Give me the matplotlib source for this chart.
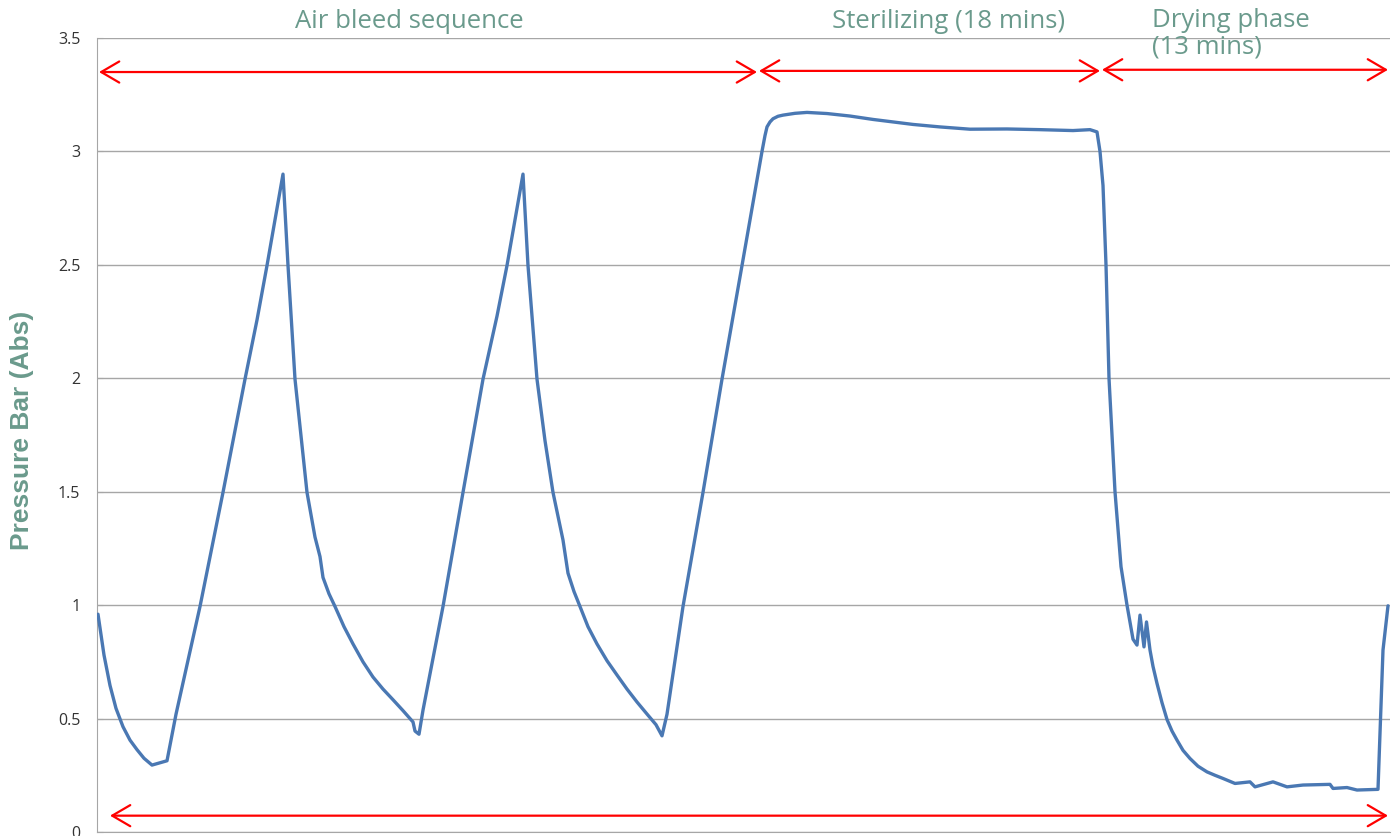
import matplotlib
matplotlib.use("Agg")
import matplotlib.pyplot as plt

# ---- data (time in arbitrary sample units) ----
time_units = [1, 7, 13, 19, 26, 33, 40, 47, 55, 70, 79, 103, 126, 148, 160, 170, 186,
              191, 198, 210, 218, 223, 226, 232, 238, 247, 256, 266, 276, 286, 296, 306,
              316, 318, 322, 326, 346, 366, 386, 400, 410, 426, 431, 440, 448, 456, 466,
              471, 477, 483, 491, 500, 510, 520, 530, 540, 550, 559, 565, 570, 586, 606,
              625, 645, 665, 668, 670, 673, 676, 681, 686, 698, 710, 730, 753, 776, 796,
              816, 843, 873, 910, 943, 976, 993, 1000, 1003, 1006, 1009, 1012, 1018, 1024,
              1030, 1036, 1040, 1043, 1047, 1049.5, 1053, 1056, 1060, 1065, 1070, 1075,
              1080, 1086, 1093, 1101, 1110, 1118, 1126, 1138, 1153, 1158, 1176, 1190,
              1206, 1233, 1236, 1250, 1260, 1281, 1283, 1286, 1291]
pressure_bar = [0.96, 0.78, 0.646, 0.545, 0.464, 0.405, 0.363, 0.325, 0.295, 0.314, 0.519,
                0.994, 1.497, 1.996, 2.257, 2.497, 2.90, 2.497, 1.996, 1.497, 1.30, 1.214,
                1.122, 1.05, 0.994, 0.905, 0.829, 0.75, 0.683, 0.63, 0.583, 0.535, 0.485,
                0.445, 0.431, 0.537, 0.994, 1.497, 1.996, 2.274, 2.497, 2.90, 2.497, 1.996,
                1.725, 1.497, 1.287, 1.141, 1.06, 0.994, 0.905, 0.829, 0.755, 0.692, 0.63,
                0.573, 0.52, 0.473, 0.424, 0.519, 0.994, 1.497, 1.996, 2.497, 3.0, 3.07,
                3.108, 3.13, 3.144, 3.155, 3.160, 3.168, 3.172, 3.167, 3.156, 3.141, 3.130,
                3.119, 3.108, 3.098, 3.099, 3.096, 3.092, 3.096, 3.086, 3.0, 2.85, 2.5, 2.0,
                1.5, 1.17, 1.0, 0.85, 0.824, 0.956, 0.816, 0.926, 0.802, 0.73, 0.655, 0.57,
                0.496, 0.445, 0.405, 0.36, 0.324, 0.29, 0.265, 0.25, 0.236, 0.214, 0.221,
                0.199, 0.221, 0.199, 0.207, 0.210, 0.192, 0.196, 0.185, 0.188, 0.435,
                0.802, 0.997]

y_ticks = [0, 0.5, 1, 1.5, 2, 2.5, 3, 3.5]
y_tick_labels = ["0", "0.5", "1", "1.5", "2", "2.5", "3", "3.5"]

phase_names = ["Air bleed sequence", "Sterilizing (18 mins)", "Drying phase\n(13 mins)"]
phase_starts = [2, 662, 1005]
phase_ends = [660, 1003, 1291]
phase_arrow_level = [3.35, 3.355, 3.36]
overall_span = (13, 1291)
overall_level = 0.072

label_color = "#6a9a8c"
line_color = "#4a78b3"

fig = plt.figure(figsize=(13.95, 8.36), dpi=100)
W, H = 1395, 836
ax = fig.add_axes([97 / W, 4 / H, (1390 - 97) / W, (832 - 38) / H])

ax.plot(time_units, pressure_bar, color=line_color, lw=2.4,
        solid_joinstyle="round", solid_capstyle="round", zorder=3)

ax.set_xlim(0, 1293)
ax.set_ylim(0, 3.5)
ax.set_yticks(y_ticks)
ax.set_yticklabels(y_tick_labels, fontfamily="Open Sans", fontsize=11.5, color="#333333")
ax.set_xticks([])
ax.grid(axis="y", color="#a6a6a6", lw=1.0)
ax.set_axisbelow(True)
for s in ["top", "right"]:
    ax.spines[s].set_visible(False)
ax.spines["left"].set_color("#a6a6a6")
ax.spines["bottom"].set_color("#a6a6a6")
ax.tick_params(axis="y", length=4, direction="in", color="#a6a6a6", pad=12)

arrow_kw = dict(arrowstyle="<->,head_length=0.65,head_width=0.38", color="red",
                lw=1.6, shrinkA=0, shrinkB=0, mutation_scale=20)
for s0, s1, lev in zip(phase_starts, phase_ends, phase_arrow_level):
    ax.annotate("", xy=(s1, lev), xytext=(s0, lev), arrowprops=arrow_kw,
                annotation_clip=False)
ax.annotate("", xy=(overall_span[1], overall_level), xytext=(overall_span[0], overall_level),
            arrowprops=arrow_kw, annotation_clip=False)

txt_kw = dict(fontfamily="Open Sans", fontsize=18.5, color=label_color)
fig.text(409 / W, 1 - 22 / H, phase_names[0], ha="center", va="center", **txt_kw)
fig.text(949 / W, 1 - 22 / H, phase_names[1], ha="center", va="center", **txt_kw)
fig.text(1152 / W, 1 - 8 / H, phase_names[2], ha="left", va="top",
         linespacing=1.1, **txt_kw)

fig.text(22 / W, 1 - 430 / H, "Pressure Bar (Abs)", rotation=90, ha="center", va="center",
         fontfamily="Liberation Sans", fontweight="bold", fontsize=19, color=label_color)

fig.savefig("out.png", dpi=100)
